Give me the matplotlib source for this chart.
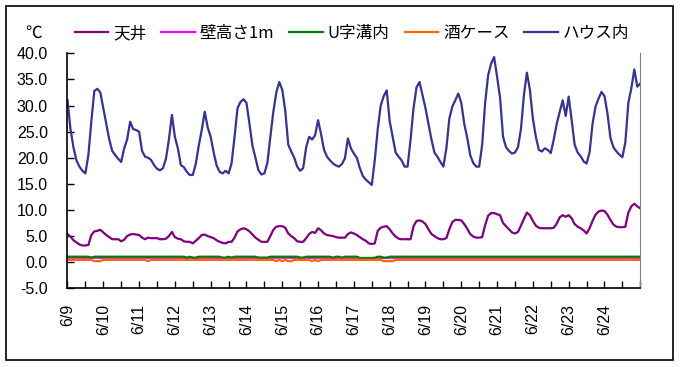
import numpy as np
import matplotlib
matplotlib.use('Agg')
import matplotlib.pyplot as plt
from matplotlib.patches import Rectangle

plt.rcParams['font.family'] = ['Noto Sans CJK JP', 'DejaVu Sans']

# readings every 2 hours from 6/9 0:00 to 6/25 0:00
day_labels = ['6/9', '6/10', '6/11', '6/12', '6/13', '6/14', '6/15', '6/16',
              '6/17', '6/18', '6/19', '6/20', '6/21', '6/22', '6/23', '6/24']
hours = np.arange(0, 16 * 24 + 1, 2)

house = [
    31.0, 25.5, 22.0, 19.5, 18.3, 17.5, 17.0, 20.5, 27.0, 32.8, 33.2, 32.5,
    29.5, 26.5, 23.5, 21.3, 20.5, 19.8, 19.2, 21.8, 23.5, 26.9, 25.5, 25.3,
    25.0, 21.3, 20.2, 20.0, 19.6, 18.6, 17.9, 17.6, 18.0, 19.8, 23.5, 28.2,
    24.0, 21.8, 18.6, 18.2, 17.3, 16.7, 16.7, 18.8, 22.3, 25.3, 28.8, 25.8,
    24.0, 21.0, 18.5, 17.3, 17.0, 17.5, 17.0, 18.9, 24.0, 29.5, 30.7, 31.2,
    30.5, 26.5, 22.3, 20.0, 17.6, 16.8, 17.0, 19.0, 24.0, 28.8, 32.5, 34.5,
    33.0, 29.0, 22.5, 21.2, 20.0, 18.3, 17.5, 18.0, 22.0, 24.0, 23.5, 24.3,
    27.2, 24.5, 21.5, 20.2, 19.5, 18.9, 18.5, 18.3, 18.8, 19.9, 23.7, 21.8,
    20.8, 20.0, 18.0, 16.5, 15.8, 15.3, 14.8, 19.5, 25.5, 30.0, 31.8, 32.9,
    27.0, 24.0, 21.0, 20.2, 19.5, 18.3, 18.3, 23.5, 29.5, 33.5, 34.5, 32.0,
    29.5, 26.5, 23.5, 21.0, 20.2, 19.2, 18.3, 21.8, 27.5, 29.8, 31.0, 32.3,
    30.5, 26.5, 23.8, 20.5, 19.0, 18.3, 18.3, 22.5, 30.5, 35.8, 38.0, 39.3,
    35.5, 31.5, 24.0, 22.0, 21.3, 20.8, 21.0, 22.0, 25.5, 32.0, 36.3, 33.0,
    27.5, 24.0, 21.5, 21.2, 21.8, 21.5, 20.9, 23.5, 26.5, 28.8, 31.0, 28.0,
    31.7, 27.2, 22.5, 21.0, 20.3, 19.3, 18.9, 21.0, 26.5, 29.8, 31.3, 32.6,
    31.8, 28.5, 23.8, 22.0, 21.2, 20.6, 20.1, 23.0, 30.5, 33.3, 36.9, 33.6,
    34.2]

ceiling = [
    5.4, 4.9, 4.2, 3.8, 3.4, 3.2, 3.2, 3.3, 5.2, 5.9, 6.0, 6.2,
    5.7, 5.2, 4.8, 4.4, 4.4, 4.4, 4.0, 4.3, 5.0, 5.3, 5.4, 5.3,
    5.2, 4.7, 4.4, 4.7, 4.6, 4.6, 4.6, 4.4, 4.4, 4.5, 5.0, 5.8,
    4.8, 4.5, 4.4, 4.0, 3.9, 3.9, 3.6, 4.1, 4.6, 5.2, 5.3, 5.0,
    4.8, 4.6, 4.2, 3.9, 3.7, 3.6, 3.9, 3.9, 4.7, 5.9, 6.3, 6.5,
    6.3, 5.9, 5.3, 4.7, 4.3, 3.9, 3.9, 3.9, 5.0, 6.2, 6.8, 6.9,
    6.9, 6.6, 5.5, 5.0, 4.6, 4.0, 3.9, 3.9, 4.6, 5.4, 5.8, 5.6,
    6.5, 6.1, 5.5, 5.2, 5.1, 5.0, 4.8, 4.7, 4.7, 4.7, 5.4, 5.7,
    5.5, 5.2, 4.8, 4.4, 4.1, 3.6, 3.5, 3.6, 6.0, 6.6, 6.8, 6.9,
    6.3, 5.5, 4.9, 4.5, 4.4, 4.4, 4.4, 4.4, 6.9, 7.9, 8.0, 7.8,
    7.3, 6.3, 5.4, 5.0, 4.6, 4.4, 4.4, 4.6, 6.3, 7.7, 8.1, 8.1,
    8.0, 7.3, 6.4, 5.4, 4.9, 4.7, 4.7, 4.8, 7.1, 8.9, 9.4, 9.4,
    9.2, 9.0, 7.5, 6.9, 6.3, 5.7, 5.5, 5.8, 7.0, 8.3, 9.5, 9.0,
    7.9, 7.0, 6.6, 6.5, 6.5, 6.5, 6.5, 6.6, 7.4, 8.6, 9.0, 8.7,
    9.0, 8.4, 7.3, 6.8, 6.5, 6.1, 5.5, 6.5, 7.9, 9.1, 9.7, 9.9,
    9.8, 9.1, 8.1, 7.2, 6.8, 6.7, 6.7, 6.8, 9.5, 10.7, 11.2, 10.7,
    10.3]

wall = [
    0.85, 0.85, 0.85, 0.85, 0.85, 0.85, 0.85, 0.85, 0.85, 0.85, 0.85, 0.85,
    0.85, 0.85, 0.85, 0.85, 0.85, 0.85, 0.85, 0.85, 0.85, 0.85, 0.85, 0.85,
    0.85, 0.85, 0.85, 0.85, 0.85, 0.85, 0.85, 0.85, 0.85, 0.85, 0.85, 0.85,
    0.85, 0.85, 0.85, 0.85, 0.85, 0.85, 0.85, 0.85, 0.85, 0.85, 0.85, 0.85,
    0.85, 0.85, 0.85, 0.85, 0.85, 0.85, 0.85, 0.85, 0.85, 0.85, 0.85, 0.85,
    0.85, 0.85, 0.85, 0.85, 0.85, 0.85, 0.85, 0.85, 0.85, 0.85, 0.85, 0.85,
    0.85, 0.85, 0.85, 0.85, 0.85, 0.85, 0.85, 0.85, 0.85, 0.85, 0.85, 0.85,
    0.85, 0.85, 0.85, 0.85, 0.85, 0.85, 0.85, 0.85, 0.85, 0.85, 0.85, 0.85,
    0.85, 0.85, 0.80, 0.80, 0.80, 0.80, 0.80, 0.85, 0.85, 0.85, 0.85, 0.85,
    0.85, 0.85, 0.85, 0.85, 0.85, 0.85, 0.85, 0.85, 0.85, 0.85, 0.85, 0.85,
    0.85, 0.85, 0.85, 0.85, 0.85, 0.85, 0.85, 0.85, 0.85, 0.85, 0.85, 0.85,
    0.85, 0.85, 0.85, 0.85, 0.85, 0.85, 0.85, 0.85, 0.85, 0.85, 0.85, 0.85,
    0.85, 0.85, 0.85, 0.85, 0.85, 0.85, 0.85, 0.85, 0.85, 0.85, 0.85, 0.85,
    0.85, 0.85, 0.85, 0.85, 0.85, 0.85, 0.85, 0.85, 0.85, 0.85, 0.85, 0.85,
    0.85, 0.85, 0.85, 0.85, 0.85, 0.85, 0.85, 0.85, 0.85, 0.85, 0.85, 0.85,
    0.85, 0.85, 0.85, 0.85, 0.85, 0.85, 0.85, 0.85, 0.85, 0.85, 0.85, 0.85,
    0.85]

ditch = [
    1.05, 1.05, 1.05, 1.05, 1.05, 1.05, 1.05, 1.05, 0.85, 1.05, 1.05, 1.05,
    1.05, 1.05, 1.05, 1.05, 1.05, 1.05, 1.05, 1.05, 1.05, 1.05, 1.05, 1.05,
    1.05, 1.05, 1.05, 1.05, 1.05, 1.05, 1.05, 1.05, 1.05, 1.05, 1.05, 1.05,
    1.05, 1.05, 1.05, 1.05, 0.85, 1.05, 0.85, 0.85, 1.05, 1.05, 1.05, 1.05,
    1.05, 1.05, 1.05, 1.05, 0.85, 0.85, 1.05, 0.85, 1.05, 1.05, 1.05, 1.05,
    1.05, 1.05, 1.05, 1.05, 0.85, 0.85, 0.85, 0.85, 1.05, 1.05, 1.05, 1.05,
    1.05, 1.05, 1.05, 1.05, 1.05, 1.05, 0.85, 0.85, 1.05, 1.05, 1.05, 1.05,
    1.05, 1.05, 1.05, 1.05, 1.05, 0.85, 1.05, 1.05, 0.85, 1.05, 1.05, 1.05,
    1.05, 1.05, 0.80, 0.80, 0.80, 0.80, 0.80, 0.80, 1.05, 1.05, 0.85, 0.85,
    1.05, 1.05, 1.05, 1.05, 1.05, 1.05, 1.05, 1.05, 1.05, 1.05, 1.05, 1.05,
    1.05, 1.05, 1.05, 1.05, 1.05, 1.05, 1.05, 1.05, 1.05, 1.05, 1.05, 1.05,
    1.05, 1.05, 1.05, 1.05, 1.05, 1.05, 1.05, 1.05, 1.05, 1.05, 1.05, 1.05,
    1.05, 1.05, 1.05, 1.05, 1.05, 1.05, 1.05, 1.05, 1.05, 1.05, 1.05, 1.05,
    1.05, 1.05, 1.05, 1.05, 1.05, 1.05, 1.05, 1.05, 1.05, 1.05, 1.05, 1.05,
    1.05, 1.05, 1.05, 1.05, 1.05, 1.05, 1.05, 1.05, 1.05, 1.05, 1.05, 1.05,
    1.05, 1.05, 1.05, 1.05, 1.05, 1.05, 1.05, 1.05, 1.05, 1.05, 1.05, 1.05,
    1.05]

sake_case = [
    0.45, 0.45, 0.45, 0.45, 0.45, 0.45, 0.45, 0.45, 0.45, 0.2, 0.2, 0.2,
    0.45, 0.45, 0.45, 0.45, 0.45, 0.45, 0.45, 0.45, 0.45, 0.45, 0.45, 0.45,
    0.45, 0.45, 0.45, 0.2, 0.45, 0.45, 0.45, 0.45, 0.45, 0.45, 0.45, 0.45,
    0.45, 0.45, 0.45, 0.45, 0.45, 0.45, 0.45, 0.45, 0.45, 0.45, 0.45, 0.45,
    0.45, 0.45, 0.45, 0.45, 0.45, 0.45, 0.45, 0.45, 0.45, 0.45, 0.45, 0.45,
    0.45, 0.45, 0.45, 0.45, 0.45, 0.45, 0.45, 0.45, 0.45, 0.45, 0.2, 0.45,
    0.2, 0.45, 0.2, 0.2, 0.45, 0.45, 0.45, 0.45, 0.45, 0.45, 0.2, 0.45,
    0.2, 0.45, 0.45, 0.45, 0.45, 0.45, 0.45, 0.45, 0.45, 0.45, 0.45, 0.45,
    0.45, 0.45, 0.45, 0.45, 0.45, 0.45, 0.45, 0.45, 0.45, 0.45, 0.2, 0.2,
    0.2, 0.2, 0.45, 0.45, 0.45, 0.45, 0.45, 0.45, 0.45, 0.45, 0.45, 0.45,
    0.45, 0.45, 0.45, 0.45, 0.45, 0.45, 0.45, 0.45, 0.45, 0.45, 0.45, 0.45,
    0.45, 0.45, 0.45, 0.45, 0.45, 0.45, 0.45, 0.45, 0.45, 0.45, 0.45, 0.45,
    0.45, 0.45, 0.45, 0.45, 0.45, 0.45, 0.45, 0.45, 0.45, 0.45, 0.45, 0.45,
    0.45, 0.45, 0.45, 0.45, 0.45, 0.45, 0.45, 0.45, 0.45, 0.45, 0.45, 0.45,
    0.45, 0.45, 0.45, 0.45, 0.45, 0.45, 0.45, 0.45, 0.45, 0.45, 0.45, 0.45,
    0.45, 0.45, 0.45, 0.45, 0.45, 0.45, 0.45, 0.45, 0.45, 0.45, 0.45, 0.45,
    0.45]

series = [
    ('天井', ceiling, '#800080'),
    ('壁高さ1m', wall, '#FF00FF'),
    ('U字溝内', ditch, '#008000'),
    ('酒ケース', sake_case, '#FF6600'),
    ('ハウス内', house, '#333399'),
]

fig = plt.figure(figsize=(6.81, 3.67), dpi=100)
ax = fig.add_axes([0.0991, 0.2144, 0.8411, 0.6404])

days = hours / 24.0
for name, vals, col in series:
    ax.plot(days, vals, color=col, lw=1.6, label=name)

ax.set_xlim(0, 16)
ax.set_ylim(-5, 40)
ax.set_yticks(np.arange(-5, 41, 5))
ax.set_yticklabels(['%.1f' % v for v in np.arange(-5, 41, 5)],
                   family=['Liberation Sans'], fontsize=11.5)
ax.set_xticks(np.arange(16))
ax.set_xticklabels(day_labels, rotation=90, va='top', ha='center',
                   family=['Liberation Sans'], fontsize=11.5)
ax.set_xticks(np.arange(0.5, 16.1, 0.5), minor=True)
ax.tick_params(axis='both', which='both', direction='in', length=5, width=1)
ax.tick_params(axis='y', pad=14)
ax.tick_params(axis='x', pad=11)

ax.spines['top'].set_visible(False)
ax.spines['right'].set_color('#808080')
ax.spines['left'].set_linewidth(1.2)
ax.spines['bottom'].set_linewidth(1.2)

fig.text(0.049, 0.91, '℃', ha='center', va='center', fontsize=12)
fig.legend(loc='center', bbox_to_anchor=(0.517, 0.908), ncol=5, frameon=False,
           fontsize=12, handlelength=2.0, handletextpad=0.3, columnspacing=0.9)

fig.patches.append(Rectangle((0.0088, 0.019), 0.979, 0.9646, transform=fig.transFigure,
                             fill=False, edgecolor='black', lw=1.2))

fig.savefig('out.png', dpi=100)
